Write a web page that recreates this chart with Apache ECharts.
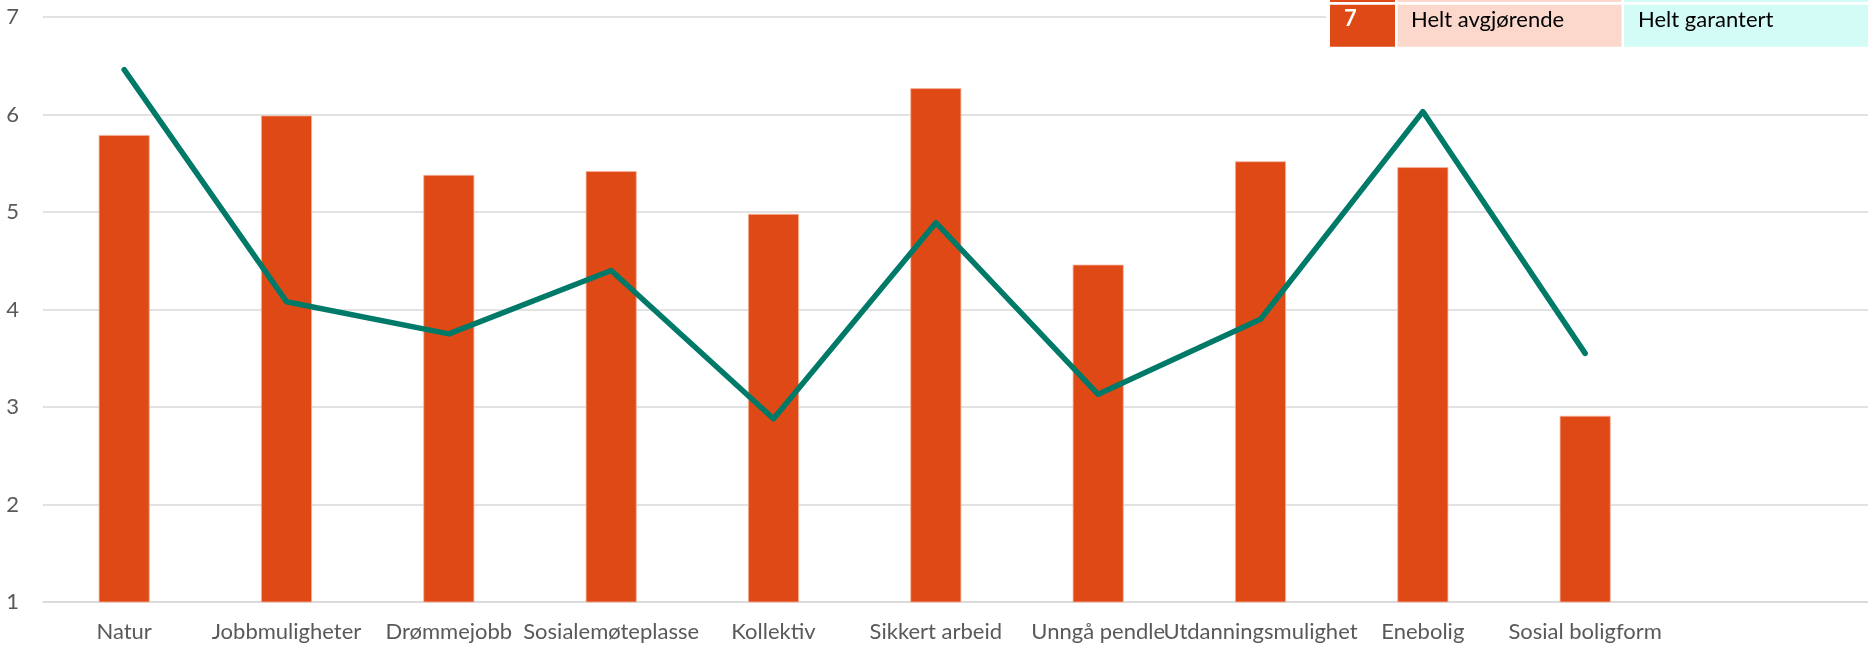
<!DOCTYPE html>
<html>
<head>
<meta charset="utf-8">
<script src="https://cdn.jsdelivr.net/npm/echarts@6/dist/echarts.min.js"></script>
<style>
  html, body { margin: 0; padding: 0; background: #fff; }
  #chart { width: 1868px; height: 645px; }
</style>
</head>
<body>
<div id="chart"></div>
<script>
const categories = ['Natur', 'Jobbmuligheter', 'Drømmejobb', 'Sosialemøteplasse', 'Kollektiv',
  'Sikkert arbeid', 'Unngå pendle', 'Utdanningsmulighet', 'Enebolig', 'Sosial boligform'];
const padCategories = ['', ''];
const barValues = [5.79, 5.99, 5.38, 5.42, 4.98, 6.27, 4.46, 5.52, 5.46, 2.91];
const lineValues = [6.46, 4.08, 3.75, 4.40, 2.88, 4.89, 3.13, 3.90, 6.03, 3.55];
const yTicks = [1, 2, 3, 4, 5, 6, 7];
const tableLabels = ['7', 'Helt avgjørende', 'Helt garantert'];

const FONT = 'Lato';
const chart = echarts.init(document.getElementById('chart'));
const allCats = categories.concat(padCategories);

chart.setOption({
  animation: false,
  backgroundColor: '#ffffff',
  grid: { left: 43, width: 1948, top: 17, height: 585, containLabel: false, outerBoundsMode: 'none' },
  xAxis: {
    type: 'category',
    data: allCats,
    boundaryGap: true,
    axisLine: { show: true, lineStyle: { color: '#d9d9d9', width: 1.5 } },
    axisTick: { show: false },
    axisLabel: { interval: 0, color: '#595959', fontFamily: FONT, fontSize: 22, margin: 19 }
  },
  yAxis: {
    type: 'value',
    min: yTicks[0],
    max: yTicks[yTicks.length - 1],
    interval: 1,
    axisLine: { show: false },
    axisTick: { show: false },
    axisLabel: { color: '#595959', fontFamily: FONT, fontSize: 22, margin: 24 },
    splitLine: { lineStyle: { color: '#d9d9d9', width: 1.5 } }
  },
  series: [
    {
      name: 'Avgjørende',
      type: 'bar',
      data: barValues,
      barWidth: 51,
      itemStyle: { color: '#DE4915', borderColor: '#F6B49C', borderWidth: 0.8 },
      z: 2
    },
    {
      name: 'Garantert',
      type: 'line',
      data: lineValues,
      symbol: 'none',
      lineStyle: { color: '#007A68', width: 5.5, cap: 'round', join: 'round' },
      z: 3
    }
  ],
  graphic: [
    { type: 'rect', z: 100, shape: { x: 1326, y: -10, width: 542, height: 59 }, style: { fill: '#ffffff' } },
    { type: 'rect', z: 101, shape: { x: 1330, y: -40, width: 65, height: 42 }, style: { fill: '#DE4915' } },
    { type: 'rect', z: 101, shape: { x: 1397.5, y: -40, width: 224, height: 42 }, style: { fill: '#FBD7CC' } },
    { type: 'rect', z: 101, shape: { x: 1624, y: -40, width: 244, height: 42 }, style: { fill: '#D3FCF6' } },
    { type: 'rect', z: 101, shape: { x: 1330, y: 4.7, width: 65, height: 42 }, style: { fill: '#DE4915' } },
    { type: 'rect', z: 101, shape: { x: 1397.5, y: 4.7, width: 224, height: 42 }, style: { fill: '#FBD7CC' } },
    { type: 'rect', z: 101, shape: { x: 1624, y: 4.7, width: 244, height: 42 }, style: { fill: '#D3FCF6' } },
    { type: 'text', z: 102, x: 1344, y: 19, style: { text: tableLabels[0], fill: '#ffffff', font: 'bold 22px ' + FONT, textVerticalAlign: 'middle' } },
    { type: 'text', z: 102, x: 1411, y: 20, style: { text: tableLabels[1], fill: '#000000', font: '22px ' + FONT, textVerticalAlign: 'middle' } },
    { type: 'text', z: 102, x: 1638, y: 20, style: { text: tableLabels[2], fill: '#000000', font: '22px ' + FONT, textVerticalAlign: 'middle' } }
  ]
});
</script>
</body>
</html>
